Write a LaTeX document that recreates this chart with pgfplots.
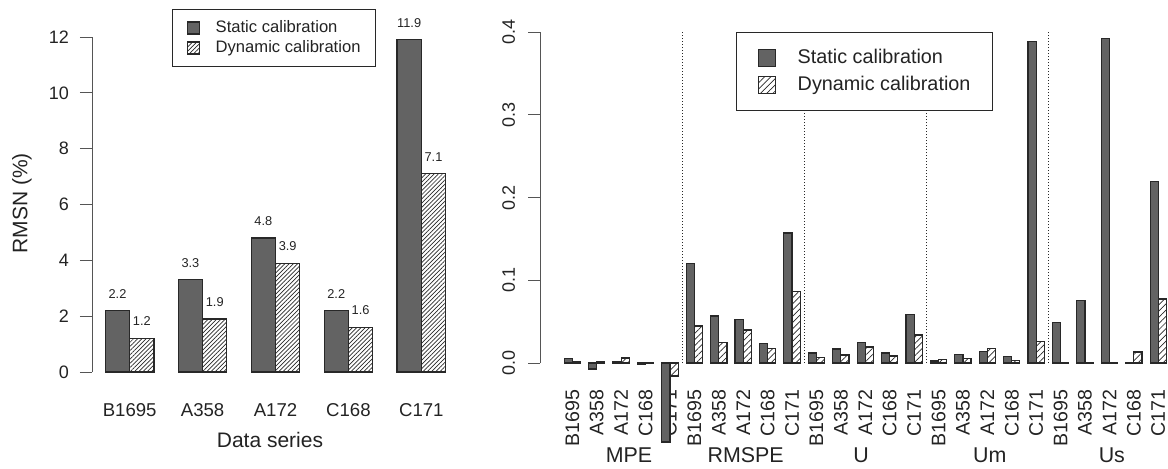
\documentclass[border=0pt]{standalone}
\usepackage{pgfplots}
\pgfplotsset{compat=1.18}
\usepackage{pgfplotstable}
\usetikzlibrary{patterns.meta}
\usepackage{fontspec}
\setmainfont{Liberation Sans}

\definecolor{barfill}{RGB}{99,99,99}
\definecolor{baredge}{RGB}{40,40,40}
\definecolor{axisgray}{RGB}{85,85,85}
\definecolor{txt}{RGB}{35,35,35}

% left panel: RMSN per data series
\pgfplotstableread{
xs    st    xd    dy
1.5   2.2   2.5   1.2
4.5   3.3   5.5   1.9
7.5   4.8   8.5   3.9
10.5  2.2   11.5  1.6
13.5  11.9  14.5  7.1
}\leftdata

% right panel: MPE, RMSPE, U, Um, Us (B1695 A358 A172 C168 C171 each)
\pgfplotstableread{
xs    st       xd    dy
1.5   0.0057   2.5   0.0015
4.5   -0.0073  5.5   0.0020
7.5   0.0020   8.5   0.0060
10.5  -0.0020  11.5  0.0010
13.5  -0.0955  14.5  -0.0157
16.5  0.1205   17.5  0.0447
19.5  0.0568   20.5  0.0245
22.5  0.0528   23.5  0.0400
25.5  0.0238   26.5  0.0178
28.5  0.1570   29.5  0.0862
31.5  0.0121   32.5  0.0064
34.5  0.0169   35.5  0.0097
37.5  0.0250   38.5  0.0193
40.5  0.0121   41.5  0.0085
43.5  0.0589   44.5  0.0339
46.5  0.0024   47.5  0.0040
49.5  0.0100   50.5  0.0057
52.5  0.0141   53.5  0.0178
55.5  0.0081   56.5  0.0035
58.5  0.3885   59.5  0.0258
61.5  0.0492   62.5  0.0005
64.5  0.0758   65.5  0.0005
67.5  0.3918   68.5  0.0005
70.5  0.0005   71.5  0.0133
73.5  0.2192   74.5  0.0774
}\rightdata

\pgfplotsset{
  panel/.style={
    scale only axis, anchor=south west, clip=false,
    axis y line*=left, axis x line*=bottom,
    x axis line style={draw=none},
    y axis line style={draw=axisgray, line width=0.5pt},
    xtick style={draw=none},
    ytick style={draw=axisgray, line width=0.5pt},
    tick align=outside, major tick length=6pt,
    /pgf/number format/assume math mode=true,
    ymin=0,
    legend cell align=left,
  },
  sqA/.style={legend image code/.code={\draw[##1] (0pt,-3pt) rectangle (6pt,3pt);}},
  sqB/.style={legend image code/.code={\draw[##1] (0pt,-4.25pt) rectangle (8.5pt,4.25pt);}},
}

\begin{document}
\begin{tikzpicture}
\begin{axis}[panel,
    at={(46pt,48pt)}, width=183.5pt, height=167.5pt,
    xmin=0.45, xmax=15.55, ymax=12,
    ytick={0,2,4,6,8,10,12},
    yticklabel style={font=\fontsize{9}{10}\selectfont, text=txt, xshift=-2pt},
    xtick={2,5,8,11,14},
    xticklabels={B1695,A358,A172,C168,C171},
    xticklabel style={font=\fontsize{9.3}{10}\selectfont, text=txt, anchor=center, yshift=-13pt},
    xlabel={Data series},
    xlabel style={at={(axis description cs:0.485,-0.203)}, anchor=center, font=\fontsize{10.5}{12}\selectfont, text=txt},
    ylabel={RMSN (\%)},
    ylabel style={at={(axis description cs:-0.191,0.504)}, anchor=center, font=\fontsize{10.5}{12}\selectfont, text=txt},
    legend style={at={(0.218,1.0836)}, anchor=north west, draw=baredge, line width=0.5pt,
      font=\fontsize{8.3}{9}\selectfont, inner xsep=7pt, inner ysep=5pt,
      row sep=1.5pt, column sep=7.5pt, nodes={inner sep=0.5pt, text=txt}},
    nodes near coords,
    nodes near coords align={center},
    every node near coord/.append style={font=\fontsize{6.4}{7}\selectfont, text=txt, yshift=8.5pt,
      /pgf/number format/.cd, fixed, fixed zerofill, precision=1},
  ]
  \addplot[ybar, bar width=1, bar shift=0pt, draw=baredge, line width=0.6pt, fill=barfill, sqA]
    table[x=xs, y=st] {\leftdata};
  \addlegendentry{Static calibration}
  \addplot[ybar, bar width=1, bar shift=0pt, draw=baredge, line width=0.6pt,
    pattern={Lines[angle=45, distance=1.5pt, line width=0.35pt]}, pattern color=baredge, sqA]
    table[x=xd, y=dy] {\leftdata};
  \addlegendentry{Dynamic calibration}
\end{axis}

\begin{axis}[panel,
    at={(270pt,52.5pt)}, width=314pt, height=165.5pt,
    xmin=-1.97, xmax=75.2, ymax=0.4,
    ytick={0,0.1,0.2,0.3,0.4},
    yticklabel style={font=\fontsize{9}{10}\selectfont, text=txt, rotate=90, anchor=south, yshift=3pt,
      /pgf/number format/.cd, fixed, fixed zerofill, precision=1},
    xtick={2,5,...,74},
    xticklabels={B1695,A358,A172,C168,C171,B1695,A358,A172,C168,C171,B1695,A358,A172,C168,C171,
      B1695,A358,A172,C168,C171,B1695,A358,A172,C168,C171},
    xticklabel style={font=\fontsize{9.8}{10}\selectfont, text=txt, rotate=90, anchor=east, xshift=-4pt},
    legend style={at={(0.3121,1.0)}, anchor=north west, draw=baredge, line width=0.5pt,
      font=\fontsize{9.9}{11}\selectfont, inner xsep=10.5pt, inner ysep=7.8pt,
      row sep=4pt, column sep=10.5pt, nodes={inner sep=0.5pt, text=txt}},
  ]
  \addplot[forget plot, baredge, line width=0.5pt, dash pattern=on 0.5pt off 1pt]
    coordinates {(15.5,0) (15.5,0.4)};
  \addplot[forget plot, baredge, line width=0.5pt, dash pattern=on 0.5pt off 1pt]
    coordinates {(30.5,0) (30.5,0.4)};
  \addplot[forget plot, baredge, line width=0.5pt, dash pattern=on 0.5pt off 1pt]
    coordinates {(45.5,0) (45.5,0.4)};
  \addplot[forget plot, baredge, line width=0.5pt, dash pattern=on 0.5pt off 1pt]
    coordinates {(60.5,0) (60.5,0.4)};
  \addplot[ybar, bar width=1, bar shift=0pt, draw=baredge, line width=0.6pt, fill=barfill, sqB]
    table[x=xs, y=st] {\rightdata};
  \addlegendentry{Static calibration}
  \addplot[ybar, bar width=1, bar shift=0pt, draw=baredge, line width=0.6pt,
    pattern={Lines[angle=45, distance=2.2pt, line width=0.35pt]}, pattern color=baredge, sqB]
    table[x=xd, y=dy] {\rightdata};
  \addlegendentry{Dynamic calibration}
  \node[font=\fontsize{10.7}{12}\selectfont, text=txt] at (axis cs:8.97,-0.111) {MPE};
  \node[font=\fontsize{10.7}{12}\selectfont, text=txt] at (axis cs:23.3,-0.111) {RMSPE};
  \node[font=\fontsize{10.7}{12}\selectfont, text=txt] at (axis cs:37.5,-0.111) {U};
  \node[font=\fontsize{10.7}{12}\selectfont, text=txt] at (axis cs:53.3,-0.111) {Um};
  \node[font=\fontsize{10.7}{12}\selectfont, text=txt] at (axis cs:68.3,-0.111) {Us};
\end{axis}
\pgfresetboundingbox
\path (0,0) rectangle (584pt,234pt);
\end{tikzpicture}
\end{document}
